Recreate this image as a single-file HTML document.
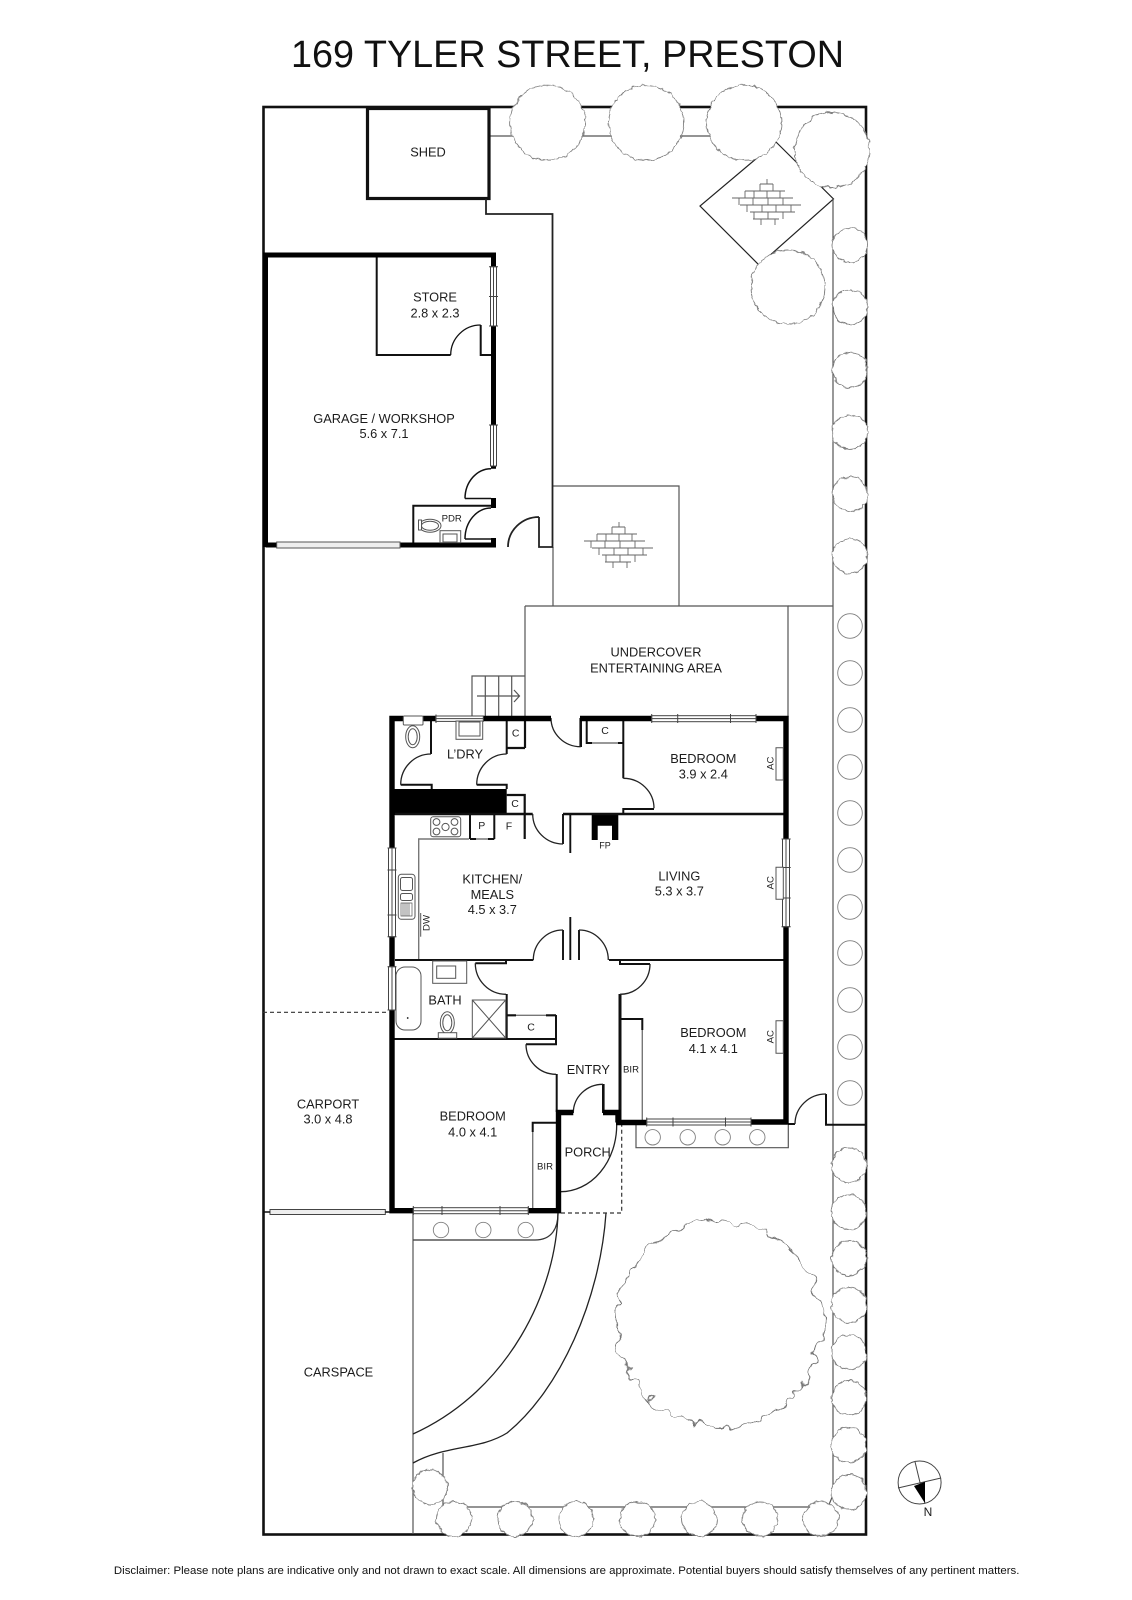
<!DOCTYPE html>
<html><head><meta charset="utf-8"><title>169 Tyler Street, Preston</title>
<style>html,body{margin:0;padding:0;background:#fff}svg{display:block}
text{font-family:"Liberation Sans",sans-serif;fill:#1c1c1c;text-anchor:middle;font-size:12.8px}
.s{font-size:9.6px}.c{font-size:10.5px}
</style></head><body>
<svg xmlns="http://www.w3.org/2000/svg" width="1132" height="1600" viewBox="0 0 1132 1600">
<defs>
<filter id="w" filterUnits="userSpaceOnUse" x="0" y="0" width="1132" height="1600" color-interpolation-filters="sRGB"><feTurbulence type="fractalNoise" baseFrequency="0.16" numOctaves="2" seed="4" result="n"/><feDisplacementMap in="SourceGraphic" in2="n" scale="5" xChannelSelector="R" yChannelSelector="G"/><feGaussianBlur stdDeviation="0.3"/></filter>
<filter id="w2" filterUnits="userSpaceOnUse" x="0" y="0" width="1132" height="1600" color-interpolation-filters="sRGB"><feTurbulence type="fractalNoise" baseFrequency="0.07" numOctaves="2" seed="7" result="n"/><feDisplacementMap in="SourceGraphic" in2="n" scale="20" xChannelSelector="R" yChannelSelector="G"/><feGaussianBlur stdDeviation="0.3"/></filter>
<g id="b" fill="none" stroke="#666" stroke-width="0.9">
<path d="M-5-18H8M-20-11H20M-33-4H28M-25 3H36M-15 10H30M-12 17H14"/>
<path d="M2-23V-18M-5-18V-11M8-18V-11M-20-11V-4M-11-11V-4M2-11V-4M15-11V-4M-26-4V3M-12-4V3M3-4V3M18-4V3M-18 3V10M-3 3V10M11 3V10M26 3V10M-11 10V17M3 10V17M18 10V17M-4 17V23M10 17V23"/>
</g>
</defs>

<text x="567.5" y="67" style="font-size:38px;fill:#111" textLength="553" lengthAdjust="spacingAndGlyphs">169 TYLER STREET, PRESTON</text>

<!-- boundary -->
<rect x="263.5" y="107" width="602.5" height="1427.5" fill="none" stroke="#111" stroke-width="2.6"/>

<!-- thin site lines -->
<g fill="none" stroke="#555" stroke-width="1.2">
<path d="M490 136H780"/>
<path d="M776 142L833.5 199L759 265L700 206Z" stroke="#222"/>
<path d="M833 199V1495L828 1507H443V1453"/>
<path d="M788 606H833"/>
<path d="M553 486H679V606M553 547V606"/>
<path d="M525 606H788V717"/>
<path d="M525 606V718M472 718V676H525M485.3 676V718M498.7 676V718M511.7 676V718M477 696H519M514 690L519.5 696L514 702"/>
<path d="M636 1125V1147.7H788.3V1125"/>
<path d="M413 1213V1534"/>
<path d="M413.3 1240H535C552 1240 558 1228 558 1213" stroke="#333"/>
</g>
<use href="#b" x="765" y="202"/>
<use href="#b" x="617" y="545"/>

<!-- driveway -->
<g fill="none" stroke="#222" stroke-width="1.3">
<path d="M558 1213C556 1290 510 1390 413 1434"/>
<path d="M606 1213C600 1300 560 1390 507 1433C480 1450 445 1445 413 1463"/>
</g>
<!-- dashed -->
<path d="M561 1213H621.7V1125M263 1012.3H389" fill="none" stroke="#333" stroke-width="1.2" stroke-dasharray="4 3"/>

<!-- shed -->
<rect x="367.5" y="108.5" width="121.5" height="90" fill="#fff" stroke="#111" stroke-width="3.2"/>
<path d="M486 199V214H552.5V547H539V517M508 547A31 30 0 0 1 539 517" fill="none" stroke="#222" stroke-width="1.8"/>

<!-- garage thin -->
<g fill="none" stroke="#111" stroke-width="2">
<path d="M376.7 255V355H450.7M480.7 325V355H491"/>
<path d="M450.7 355A30 30 0 0 1 480.7 325" stroke-width="1.3"/>
<path d="M465 498.5H491M465 498.5A26 30 0 0 1 491 468.7" stroke-width="1.5"/>
<path d="M465 539H491M465 539A26 31 0 0 1 491 508" stroke-width="1.5"/>
<path d="M413.3 545V505.7H491"/>
</g>
<!-- garage thick -->
<path d="M265.5 547V255H493.5V266.7M493.5 326V425M493.5 466V468.7M493.5 498V508M493.5 538V545M276.7 545H265.5M400 545H496" fill="none" stroke="#000" stroke-width="5"/>
<rect x="276.7" y="542" width="123.3" height="6" fill="#eee" stroke="#555" stroke-width="1"/>
<!-- garage windows -->
<g fill="#fff" stroke="#444" stroke-width="1">
<rect x="490.5" y="266.7" width="6" height="59.3"/><path d="M493.5 266.7V326M489 296.5H498M489 266.7H498M489 326H498"/>
<rect x="490.5" y="425" width="6" height="41"/><path d="M493.5 425V466M489 425H498"/>
</g>
<!-- PDR fixtures -->
<g fill="#fff" stroke="#555" stroke-width="1">
<ellipse cx="430" cy="525.7" rx="11" ry="6.5"/><ellipse cx="430" cy="525.7" rx="8.5" ry="4.5"/>
<rect x="418.5" y="520" width="3" height="10"/>
<rect x="440" y="530.7" width="20.7" height="12"/><rect x="443" y="534" width="14" height="8"/>
</g>

<!-- HOUSE -->
<rect x="390" y="789" width="116.7" height="26" fill="#000"/>
<path d="M591.7 815H618.3V840H612V825.7H597.7V840H591.7Z" fill="#000"/>
<!-- thin walls -->
<g fill="none" stroke="#111" stroke-width="2">
<path d="M431 721V754M400.7 784.7H431.7V789M506.7 721V754M476.7 784.7H506.7V789"/>
<path d="M506.7 748H525M525 718V748" stroke-width="2.2"/>
<path d="M506.7 795H524.7V839" stroke-width="2.2"/>
<path d="M580.7 718V747" stroke-width="2.6"/>
<path d="M623.3 721V778.3M654 809H623.3V814"/>
<path d="M395 814H532.7M563 814H786" stroke-width="2.4"/>
<path d="M563 814V844M570.3 814V853M570.3 917V960M563 930V960M579 930V960" stroke-width="1.9"/>
<path d="M395 960H533.3M609 960H786" stroke-width="2"/>
<path d="M475.3 963.3H506V960M506.7 994V1038M650 964H620V960"/>
<path d="M620 994V1125" stroke-width="3"/>
<path d="M392 1039H556.7" stroke-width="1.9"/>
<path d="M556 1015V1044.3H526M556.7 1074V1112" stroke-width="2"/>
<path d="M603.3 1084V1113" stroke-width="2.6"/>
<path d="M788 1124H795M826 1094V1124.7H866"/>
<path d="M620 1019H642.3V1030M532.7 1132V1122.7H556"/>
<path d="M470 815V839M494.3 815V839M470 839H476M488 839H494.3"/>
<path d="M586.7 721V743H592M618 743H623.3"/>
<path d="M506.7 1015.3H516M546 1015.3H556" stroke-width="2.2"/>
</g>
<!-- grey thin -->
<g fill="none" stroke="#777" stroke-width="1.4">
<path d="M476 839H488M592 743H618M516 1015.3H546"/>
<path d="M642.3 1030V1120M532.7 1132V1208"/>
<path d="M469 839H418.7V959"/>
</g>
<!-- arcs -->
<g fill="none" stroke="#222" stroke-width="1.3">
<path d="M400.7 784.7A30.3 30.7 0 0 1 431 754M476.7 784.7A30 30.7 0 0 1 506.7 754"/>
<path d="M551 718A29.7 28.7 0 0 0 580.7 746.7M623.3 778.3A30.7 30 0 0 1 654 808.3"/>
<path d="M532.7 814A30.3 30 0 0 0 563 844M533.3 960A29.7 30 0 0 1 563 930M579 930A29.3 30 0 0 1 608.3 960"/>
<path d="M475.3 963.3A30.7 31 0 0 0 506 994.3M650 964A30 30.3 0 0 1 620 994.3M526 1044.3A30 30 0 0 0 556 1074.3"/>
<path d="M573.3 1113A29.7 28.7 0 0 1 603 1084.3M616.7 1125A56 66.7 0 0 1 560.7 1191.7M795 1124A31 30 0 0 1 826 1094"/>
</g>
<!-- thick walls -->
<g fill="none" stroke="#000" stroke-width="5.4">
<path d="M392 848V718.5H403.3M423 718.5H435.7M483.3 718.5H551M580 718.5H651.7M756 718.5H786V839"/>
<path d="M786 926.7V1122H751"/>
<path d="M392 936.7V966.7M392 1010V1210.7H413.3M528.3 1210.7H558.5V1112.5H573.3"/>
<path d="M603 1112.5H618V1122.5M616 1122.5H646.7"/>
</g>
<!-- windows -->
<g fill="#fff" stroke="#444" stroke-width="1">
<rect x="435.7" y="716" width="47.6" height="5.4"/><path d="M435.7 718.6H483.3M436 714.5V723"/>
<rect x="651.7" y="715.7" width="104.3" height="6"/><path d="M651.7 718.6H756M651.7 714V723M677.7 714V723M730.5 714V723M756 714V723"/>
<rect x="782.5" y="839" width="7" height="87.7"/><path d="M786 839V926.7M781.5 839H790.7M781.5 867.5H790.7M781.5 898H790.7M781.5 926.7H790.7"/>
<rect x="388.5" y="848" width="7" height="88.7"/><path d="M392 848V936.7M387.5 848H396.5M387.5 870H396.5M387.5 915H396.5M387.5 936.7H396.5"/>
<rect x="388.5" y="966.7" width="7" height="43.3"/><path d="M392 966.7V1010M387.5 966.7H396.5M387.5 1010H396.5"/>
<rect x="413.3" y="1207.7" width="115" height="6"/><path d="M413.3 1210.7H528.3M413.3 1206V1215M442 1206V1215M500 1206V1215M528.3 1206V1215"/>
<rect x="646.7" y="1119" width="104.3" height="6"/><path d="M646.7 1122H751M646.7 1117.5V1126.5M673 1117.5V1126.5M725.5 1117.5V1126.5M751 1117.5V1126.5"/>
<rect x="270" y="1209.5" width="115.3" height="5" fill="#eee"/>
</g>
<path d="M263 1212H270M385.3 1212H390" stroke="#111" stroke-width="1.5"/>

<!-- fixtures -->
<g fill="#fff" stroke="#555" stroke-width="1">
<rect x="403.3" y="716" width="19.7" height="9" rx="1"/>
<ellipse cx="412.7" cy="736.7" rx="7" ry="11"/><ellipse cx="412.7" cy="736.7" rx="4.5" ry="8"/>
<rect x="456" y="721" width="26.7" height="18.3"/><rect x="459" y="722" width="21" height="14"/>
<rect x="430.7" y="816.7" width="30" height="20" rx="2.5"/>
<circle cx="436.5" cy="822" r="3.4"/><circle cx="454.5" cy="822" r="3.4"/><circle cx="436.5" cy="831.5" r="3.4"/><circle cx="454.5" cy="831.5" r="3.4"/><circle cx="445.5" cy="827" r="3.6"/>
<rect x="398.3" y="874.3" width="16.7" height="45" rx="3"/><rect x="400.5" y="877.5" width="12" height="13" rx="2"/><rect x="400.5" y="893.5" width="12" height="7" rx="2"/>
<path d="M401 903H412V916H401ZM403 903V916M405 903V916M407 903V916M409 903V916" stroke-width=".7"/>
<path d="M420.7 913V936.7"/>
<rect x="396" y="967" width="25" height="63" rx="9"/>
<rect x="432.7" y="961" width="34" height="22.3"/><rect x="436.7" y="966" width="19" height="12.3"/>
<ellipse cx="447.3" cy="1022.7" rx="7" ry="11"/><ellipse cx="447.3" cy="1022.7" rx="4.5" ry="8"/>
<rect x="438.3" y="1032.7" width="18.4" height="5.5"/>
<path d="M472.3 1000H505.7V1038H472.3ZM472.3 1000L505.7 1038M505.7 1000L472.3 1038"/>
<path d="M776 780H783.3V747.7H776ZM776 899.3H783.3V867.3H776ZM776 1053.3H783.3V1020.7H776Z"/>
</g>
<circle cx="407.7" cy="1018" r=".9" fill="#111"/>

<!-- trees -->
<circle cx="719" cy="1324" r="103" fill="none" stroke="#777" stroke-width="1.1" filter="url(#w2)"/>
<g fill="#fff" stroke="#808080" stroke-width="0.9" filter="url(#w)">
<circle cx="547.6" cy="122.7" r="37.5"/><circle cx="646" cy="122.7" r="37.5"/><circle cx="744" cy="122.7" r="37.5"/>
<circle cx="832" cy="150" r="37.5"/><circle cx="788" cy="287" r="37"/>
<circle cx="850" cy="245" r="17.5"/><circle cx="850" cy="307" r="17.5"/><circle cx="850" cy="370" r="17.5"/><circle cx="850" cy="432" r="17.5"/><circle cx="850" cy="494" r="17.5"/><circle cx="850" cy="556" r="17.5"/>
<circle cx="849" cy="1165" r="17.5"/><circle cx="849" cy="1212" r="17.5"/><circle cx="849" cy="1258" r="17.5"/><circle cx="849" cy="1305" r="17.5"/><circle cx="849" cy="1352" r="17.5"/><circle cx="849" cy="1398" r="17.5"/><circle cx="849" cy="1445" r="17.5"/><circle cx="849" cy="1492" r="17.5"/>
<circle cx="430" cy="1487" r="17.5"/><circle cx="454" cy="1519" r="17.5"/><circle cx="515" cy="1519" r="17.5"/><circle cx="576" cy="1519" r="17.5"/><circle cx="637.5" cy="1519" r="17.5"/><circle cx="699" cy="1519" r="17.5"/><circle cx="760" cy="1519" r="17.5"/><circle cx="821" cy="1519" r="17.5"/>
</g>
<g fill="#fff" stroke="#808080" stroke-width="0.9">
<circle cx="850" cy="626" r="12.3"/><circle cx="850" cy="673" r="12.3"/><circle cx="850" cy="720" r="12.3"/><circle cx="850" cy="767" r="12.3"/><circle cx="850" cy="813" r="12.3"/><circle cx="850" cy="860" r="12.3"/><circle cx="850" cy="907" r="12.3"/><circle cx="850" cy="953" r="12.3"/><circle cx="850" cy="1000" r="12.3"/><circle cx="850" cy="1047" r="12.3"/><circle cx="850" cy="1093" r="12.3"/>
<circle cx="652.7" cy="1137.3" r="7.7"/><circle cx="687.7" cy="1137.3" r="7.7"/><circle cx="722.7" cy="1137.3" r="7.7"/><circle cx="757.3" cy="1137.3" r="7.7"/>
<circle cx="441" cy="1230" r="7.7"/><circle cx="483.3" cy="1230" r="7.7"/><circle cx="525.7" cy="1230" r="7.7"/>
</g>

<!-- labels -->
<text x="428" y="156.5">SHED</text>
<text x="435" y="301.3">STORE</text><text x="435" y="317.3">2.8 x 2.3</text>
<text x="384" y="423">GARAGE / WORKSHOP</text><text x="384" y="438">5.6 x 7.1</text>
<text x="451.7" y="521.5" class="s">PDR</text>
<text x="656" y="656.5">UNDERCOVER</text><text x="656" y="672.5">ENTERTAINING AREA</text>
<text x="465" y="758.5">L’DRY</text>
<text x="515.7" y="736.5" class="c">C</text><text x="515" y="807" class="c">C</text><text x="605" y="734" class="c">C</text><text x="531" y="1030.5" class="c">C</text>
<text x="481.7" y="829" class="c">P</text><text x="509" y="829.5" class="c">F</text>
<text x="605" y="848.5" style="font-size:9px">FP</text>
<text x="703.3" y="762.8">BEDROOM</text><text x="703.3" y="778.3">3.9 x 2.4</text>
<text x="492.3" y="883.3">KITCHEN/</text><text x="492.3" y="899">MEALS</text><text x="492.3" y="914">4.5 x 3.7</text>
<text x="679.3" y="880.3">LIVING</text><text x="679.3" y="895.6">5.3 x 3.7</text>
<text x="445" y="1004.6">BATH</text>
<text x="713.3" y="1037">BEDROOM</text><text x="713.3" y="1053">4.1 x 4.1</text>
<text x="588.3" y="1074">ENTRY</text>
<text x="631" y="1072.7" class="s">BIR</text><text x="545" y="1169.5" class="s">BIR</text>
<text x="472.7" y="1120.6">BEDROOM</text><text x="472.7" y="1136.6">4.0 x 4.1</text>
<text x="587.7" y="1156.3">PORCH</text>
<text x="328" y="1108.5">CARPORT</text><text x="328" y="1123.5">3.0 x 4.8</text>
<text x="338.5" y="1376.5">CARSPACE</text>
<text transform="translate(429.5 923) rotate(-90)" class="s">DW</text>
<text transform="translate(773.5 763.3) rotate(-90)" class="s">AC</text>
<text transform="translate(773.5 882.7) rotate(-90)" class="s">AC</text>
<text transform="translate(773.5 1036.7) rotate(-90)" class="s">AC</text>

<!-- compass -->
<circle cx="919.6" cy="1482.5" r="21.5" fill="#fff" stroke="#444" stroke-width="1"/>
<path d="M915 1461.7L925 1503.3M898 1488L941 1478" stroke="#444" stroke-width="1"/>
<path d="M914 1486L925 1481.7V1503.3Z" fill="#000"/>
<text x="928" y="1516" style="font-size:12px">N</text>

<text x="566.7" y="1574" style="font-size:11.4px;fill:#111" textLength="905.5" lengthAdjust="spacingAndGlyphs">Disclaimer: Please note plans are indicative only and not drawn to exact scale. All dimensions are approximate. Potential buyers should satisfy themselves of any pertinent matters.</text>
</svg>
</body></html>
